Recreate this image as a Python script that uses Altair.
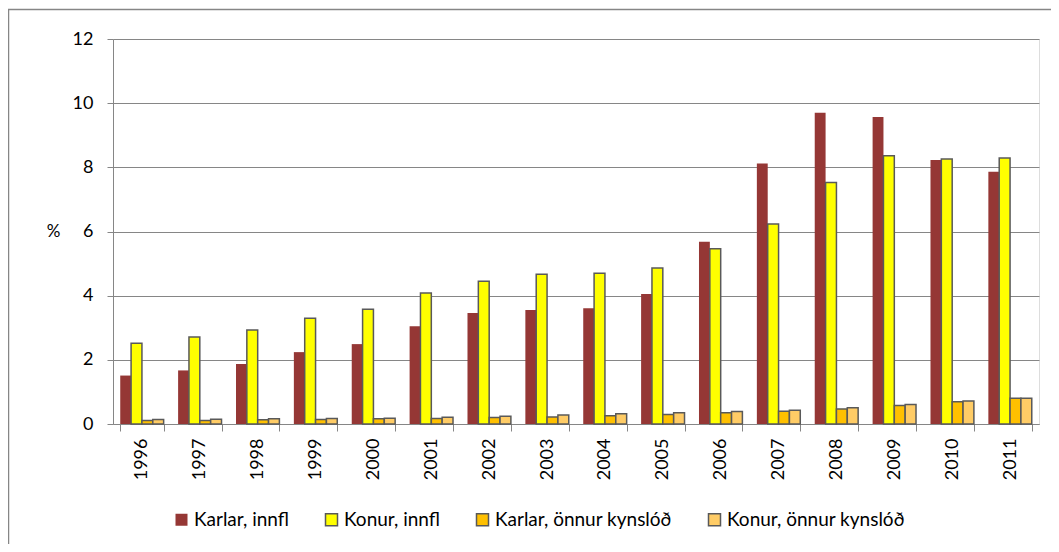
import altair as alt
import pandas as pd

years = [str(y) for y in range(1996, 2012)]
series = ["Karlar, innfl", "Konur, innfl", "Karlar, önnur kynslóð", "Konur, önnur kynslóð"]
karlar_innfl = [1.51, 1.67, 1.87, 2.24, 2.49, 3.05, 3.46, 3.55, 3.61, 4.05, 5.68, 8.12, 9.70, 9.57, 8.23, 7.86]
konur_innfl = [2.52, 2.71, 2.93, 3.30, 3.58, 4.08, 4.45, 4.67, 4.70, 4.86, 5.46, 6.23, 7.53, 8.36, 8.26, 8.29]
karlar_onnur = [0.11, 0.11, 0.13, 0.14, 0.16, 0.17, 0.20, 0.22, 0.26, 0.30, 0.35, 0.40, 0.47, 0.58, 0.69, 0.80]
konur_onnur = [0.14, 0.15, 0.16, 0.17, 0.18, 0.21, 0.24, 0.28, 0.32, 0.35, 0.39, 0.43, 0.51, 0.61, 0.72, 0.80]

fills = ["#953735", "#FFFF00", "#FFC000", "#FFCC66"]
strokes = ["rgba(0,0,0,0)", "#595959", "#595959", "#595959"]

rows = []
for s, vals in zip(series, [karlar_innfl, konur_innfl, karlar_onnur, konur_onnur]):
    for y, v in zip(years, vals):
        rows.append({"year": y, "series": s, "value": v})
df = pd.DataFrame(rows)

FONT = "Lato"
GRAY = "#868686"

legend = alt.Legend(
    title=None, orient="none", legendX=59, legendY=471, direction="horizontal",
    symbolType="square", symbolSize=144, symbolStrokeWidth=1.5,
    labelFontSize=19, labelFont=FONT, labelColor="#000000", labelOffset=3,
    columnPadding=33, labelLimit=400,
)

bars = alt.Chart(df).mark_bar(strokeWidth=1.5).encode(
    x=alt.X("year:N", sort=years,
            scale=alt.Scale(paddingInner=0.25, paddingOuter=0.125),
            axis=alt.Axis(title=None, labelAngle=-90, tickBand="extent", tickSize=7,
                          labelPadding=7, domainColor=GRAY, tickColor=GRAY,
                          labelFont=FONT, labelFontSize=18, labelColor="#000000",
                          grid=False)),
    xOffset=alt.XOffset("series:N", sort=series,
                        scale=alt.Scale(paddingInner=0, paddingOuter=0)),
    y=alt.Y("value:Q", scale=alt.Scale(domain=[0, 12]),
            axis=alt.Axis(values=[0, 2, 4, 6, 8, 10, 12], title="%", titleAngle=0,
                          titleX=-60, titleY=192.5, titleAlign="center",
                          titleBaseline="middle", titleFont=FONT, titleFontSize=17,
                          titleFontWeight="normal", titleColor="#000000",
                          gridColor=GRAY, gridWidth=1, domainColor=GRAY,
                          tickColor=GRAY, tickSize=6, labelPadding=14,
                          labelFont=FONT, labelFontSize=18, labelColor="#000000")),
    fill=alt.Fill("series:N", sort=series,
                  scale=alt.Scale(domain=series, range=fills), legend=legend),
    stroke=alt.Stroke("series:N", sort=series,
                      scale=alt.Scale(domain=series, range=strokes), legend=legend),
)

frame = alt.Chart(pd.DataFrame({"a": [0]})).mark_rect(
    fill=None, stroke=GRAY, strokeWidth=1.5
).encode(
    x=alt.value(-104.5), x2=alt.value(1000), y=alt.value(-29.5), y2=alt.value(600)
)

chart = alt.layer(frame, bars).properties(
    width=926, height=385,
    autosize=alt.AutoSizeParams(type="none"),
    padding={"left": 105, "top": 31, "right": 12, "bottom": 120},
).configure_view(stroke=None).configure(font=FONT)

chart.save("out.html", embed_options={"renderer": "svg", "actions": False})
